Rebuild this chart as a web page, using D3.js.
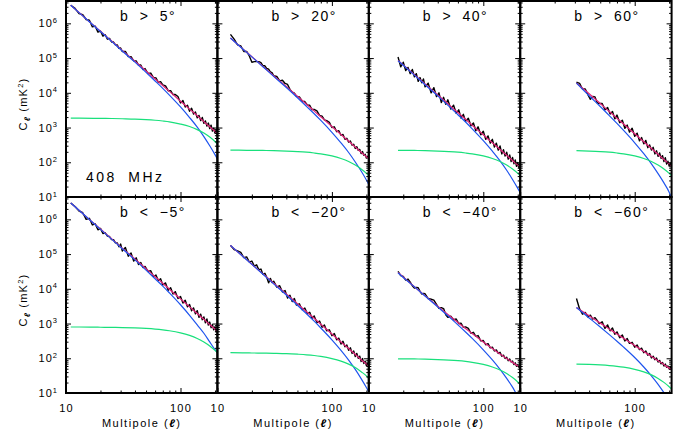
<!DOCTYPE html>
<html><head><meta charset="utf-8">
<script src="https://cdn.jsdelivr.net/npm/d3@7/dist/d3.min.js"></script>
<style>body{margin:0;background:#fff}</style>
</head><body><svg id="c" width="691" height="437"></svg>
<script>
// ---------- data ----------
const ellData = [11,12,13,14,15,16,17,18,19,20,21,22,23,24,25,26,27,28,29,30,31,33,35,37,39,41,43,45,47,49,52,55,58,61,64,67,70,74,78,82,86,90,95,100,105,110,115,120,125,130,135,140,145,150,155,160,165,170,175,180,185,190,195,200,205,210];
const ellModel = [11,13,18,20,25,31,40,50,60,70,80,100,120,140,160,180,200,210];
const panelTitles = ["b > 5°","b > 20°","b > 40°","b > 60°","b < −5°","b < −20°","b < −40°","b < −60°"];
const xTickLabels = [10,100];
const xMinorTicks = [20,30,40,50,60,70,80,90,200];
const yTickLabels = [1e1,1e2,1e3,1e4,1e5,1e6];

// measured spectra C_l (mK^2), aligned to the end of ellData
const measGt5 = [3.31e6,2.69e6,1.91e6,1.78e6,1.29e6,1.23e6,7.9e5,8.3e5,5.6e5,6.0e5,4.3e5,4.7e5,3.5e5,3.7e5,2.9e5,2.9e5,2.4e5,2.4e5,1.9e5,1.95e5,
 1.55e5,1.55e5,1.1e5,1.1e5,8.3e4,8.3e4,6.2e4,6.3e4,4.7e4,5.0e4,
 3.6e4,3.7e4,2.75e4,2.7e4,2.0e4,2.1e4,1.7e4,1.58e4,1.15e4,1.15e4,8900,8900,
 7800,5100,6000,3900,4400,2950,3600,2450,2800,1900,2240,1580,1950,1320,1550,1100,1350,930,1175,790,955,690,850,620];
const measGt20 = [4.8e5,3.5e5,2.4e5,2.24e5,1.55e5,1.55e5,1.15e5,7.6e4,7.9e4,7.9e4,7.9e4,7.4e4,6.0e4,6.0e4,5.0e4,4.8e4,4.0e4,3.8e4,
 3.1e4,2.95e4,2.2e4,2.3e4,1.86e4,1.74e4,1.26e4,1.05e4,9800,7900,
 7600,5750,5600,4470,4370,3310,3310,3020,2240,2140,1660,1580,
 1410,1000,1050,760,810,600,630,457,490,380,410,310,330,250,280,220,235,178,204,158,170,132,148,120];
const measGt40 = [1.07e5,5.6e4,7.6e4,4.4e4,5.4e4,3.55e4,4.7e4,2.9e4,3.55e4,2.14e4,2.75e4,1.95e4,2.5e4,
 1.48e4,1.9e4,1.0e4,1.41e4,7800,1.0e4,5250,7400,4700,6300,
 3400,4400,2570,3240,1860,2400,1510,1860,1120,1350,810,1050,
 620,780,457,575,355,457,275,355,224,295,174,229,151,195,123,162,105,138,91,117,76,98,68,76];
const measGt60 = [2.04e4,1.86e4,1.29e4,1.29e4,8900,6500,7900,7600,5250,4900,
 4900,3240,3800,2450,2880,1780,2290,1380,1620,955,1175,740,
 955,560,690,417,513,339,427,263,316,224,269,174,214,148,186,129,155,105,135,89,107,78,95,72];
const measLt5 = [2.95e6,2.34e6,1.74e6,1.55e6,1.0e6,1.07e6,6.9e5,7.4e5,5.0e5,5.5e5,3.9e5,4.1e5,3.3e5,3.2e5,2.6e5,2.6e5,2.1e5,2.1e5,1.62e5,1.95e5,
 1.23e5,1.55e5,8.7e4,1.07e5,6.3e4,7.8e4,5.0e4,5.75e4,4.1e4,4.4e4,
 3.16e4,3.3e4,2.24e4,2.5e4,1.74e4,1.95e4,1.29e4,1.48e4,9100,1.07e4,7100,8300,
 5250,6000,3900,4700,3020,3550,2340,2820,1900,2340,1510,1860,1290,1550,1050,1350,910,1100,760,930,660,810,575,630];
const measLt20 = [1.78e5,1.35e5,1.23e5,1.12e5,7.9e4,8.3e4,5.9e4,6.3e4,4.5e4,4.9e4,3.55e4,3.7e4,2.6e4,2.8e4,2.1e4,1.48e4,2.0e4,1.51e4,
 1.66e4,1.12e4,1.23e4,8100,8900,5400,6500,4300,5250,3400,
 3700,2500,2800,1900,2100,1410,1660,1070,1175,780,910,620,
 660,447,513,339,380,257,309,214,240,170,200,138,162,112,138,100,115,81,98,71,83,62,71,56];
const measLt40 = [3.16e4,2.4e4,2.29e4,1.78e4,1.91e4,1.55e4,1.23e4,1.05e4,1.1e4,1.07e4,8500,7100,7400,
 7200,5250,5000,4700,3550,2750,2880,2700,1780,1510,
 1620,1290,1350,1000,1020,776,800,724,525,560,427,450,
 316,324,245,263,200,209,162,174,138,148,115,123,98,107,85,95,78,83,66,74,59,65,54,55];
const measLt60 = [5250,2630,1860,2090,1550,1740,1350,1480,1230,1000,
 1120,724,912,617,741,490,575,389,468,316,372,269,
 288,209,240,178,195,145,162,123,138,102,115,91,102,78,87,69,76,60,68,55,60,49,55,47];

// model curves, aligned to the end of ellModel
const totalGt5 = [3.31e6,2.04e6,7.94e5,5.89e5,3.09e5,1.66e5,8.13e4,4.27e4,2.51e4,1.62e4,1.1e4,5750,3390,2190,1480,1050,776,676];
const synGt5   = [3.31e6,2.04e6,7.85e5,5.8e5,3.02e5,1.6e5,7.64e4,3.87e4,2.19e4,1.34e4,8570,3910,1940,1030,550,299,166,123];
const noiseGt5 = [1860,1860,1840,1830,1820,1790,1750,1690,1620,1540,1460,1260,1070,873,692,532,397,339];
const totalGt20 = [3.8e5,1.48e5,1.1e5,5.75e4,3.09e4,1.51e4,7940,4680,3020,2040,1070,631,407,275,195,145,126];
const synGt20   = [3.8e5,1.46e5,1.08e5,5.62e4,2.98e4,1.42e4,7210,4070,2500,1600,728,361,191,102,56,31,23];
const noiseGt20 = [224,221,220,219,216,210,203,195,185,175,152,128,105,83,64,48,41];
const totalGt40 = [8.5e4,6.31e4,3.31e4,1.78e4,8710,4570,2690,1740,1170,617,363,234,158,112,83,72];
const synGt40   = [8.4e4,6.2e4,3.24e4,1.71e4,8180,4150,2340,1440,918,419,208,110,59,32,17.7,13.2];
const noiseGt40 = [221,220,219,216,210,203,195,185,175,152,128,105,83,64,48,41];
const totalGt60 = [1.91e4,9330,4900,2880,1860,1260,661,389,251,170,120,89,78];
const synGt60   = [1.91e4,8220,4030,2210,1320,826,364,176,90,47,25.5,13.8,9.25];
const noiseGt60 = [216,210,203,195,185,175,152,128,105,83,64,48,41];
const totalLt5 = [2.95e6,1.82e6,7.08e5,5.25e5,2.75e5,1.48e5,7.24e4,3.8e4,2.24e4,1.45e4,9770,5130,3020,1950,1320,933,692,603];
const synLt5   = [2.95e6,1.82e6,7.0e5,5.16e5,2.69e5,1.43e5,6.81e4,3.45e4,1.95e4,1.2e4,7640,3480,1730,914,525,295,178,145];
const noiseLt5 = [794,794,785,782,776,766,746,721,692,658,621,540,455,372,295,227,169,145];
const totalLt20 = [1.78e5,6.92e4,5.13e4,2.69e4,1.45e4,7080,3720,2190,1410,955,501,295,191,129,91,68,59];
const synLt20   = [1.78e5,6.84e4,5.05e4,2.63e4,1.39e4,6650,3370,1910,1170,746,340,169,89,48,26,14.4,10.7];
const noiseLt20 = [145,143,142,141,139,136,131,126,120,113,98,83,68,54,41,31,26];
const totalLt40 = [2.95e4,2.19e4,1.15e4,6310,3160,1740,1070,724,513,295,191,132,98,76,60,54];
const synLt40   = [2.88e4,2.12e4,1.14e4,6240,3010,1580,916,570,373,175,89.5,48,26.4,14.7,8.2,6.6];
const noiseLt40 = [96.6,96.2,95.5,94.2,91.8,88.7,85.1,80.9,76.4,66.4,56,45.8,36.3,27.9,20.8,17.8];
const totalLt60 = [2880,1670,1030,697,501,376,233,157,113,85,66,52,47];
const synLt60   = [2880,1450,794,479,309,209,105,56,31,17.8,10.2,5.9,4.6];
const noiseLt60 = [68.2,66.5,64.3,61.7,58.6,55.3,48.1,40.6,33.2,26.3,20.2,15.1,12.9];

// ---------- drawing ----------
const W = 691, H = 437;
const colX = [66, 217.4, 368.8, 520.2], pw = 151.4;
const rowY = [1, 197], ph = 196;
const FONT = "'Liberation Sans', Arial, Helvetica, sans-serif";
const C_BLUE = "#1f55ee", C_GREEN = "#19e07c", C_MAG = "#e0287c";

const x = d3.scaleLog().domain([10, 210]).range([0, pw]);
const y = d3.scaleLog().domain([10, 4.4e6]).range([ph, 0]);

const yMinor = [];
for (let e = 1; e <= 6; e++) for (let m = 2; m <= 9; m++) { const v = m * Math.pow(10, e); if (v < 4.4e6) yMinor.push(v); }

const panels = [
  {meas: measGt5, total: totalGt5, syn: synGt5, noise: noiseGt5},
  {meas: measGt20, total: totalGt20, syn: synGt20, noise: noiseGt20},
  {meas: measGt40, total: totalGt40, syn: synGt40, noise: noiseGt40},
  {meas: measGt60, total: totalGt60, syn: synGt60, noise: noiseGt60},
  {meas: measLt5, total: totalLt5, syn: synLt5, noise: noiseLt5},
  {meas: measLt20, total: totalLt20, syn: synLt20, noise: noiseLt20},
  {meas: measLt40, total: totalLt40, syn: synLt40, noise: noiseLt40},
  {meas: measLt60, total: totalLt60, syn: synLt60, noise: noiseLt60}
];
const align = (arr, grid) => { const off = grid.length - arr.length; return arr.map((v, i) => [grid[off + i], v]); };

const svg = d3.select("#c");
svg.append("rect").attr("width", W).attr("height", H).attr("fill", "#fff");
const defs = svg.append("defs");
defs.append("clipPath").attr("id", "pclip").append("rect").attr("width", pw).attr("height", ph);

const lineData = d3.line().x(d => x(d[0])).y(d => y(d[1]));
const lineModel = d3.line().x(d => x(d[0])).y(d => y(d[1])).curve(d3.curveMonotoneX);

panels.forEach((p, i) => {
  const r = Math.floor(i / 4), c = i % 4;
  const g = svg.append("g").attr("transform", `translate(${colX[c]},${rowY[r]})`);
  const pl = g.append("g").attr("clip-path", "url(#pclip)");
  pl.append("path").attr("d", lineData(align(p.meas, ellData))).attr("fill", "none").attr("stroke", "#000").attr("stroke-width", 1.4).attr("stroke-linejoin", "round");
  pl.append("path").attr("d", lineModel(align(p.total, ellModel))).attr("fill", "none").attr("stroke", C_MAG).attr("stroke-width", 1.3);
  pl.append("path").attr("d", lineModel(align(p.syn, ellModel))).attr("fill", "none").attr("stroke", C_BLUE).attr("stroke-width", 1.2);
  pl.append("path").attr("d", lineModel(align(p.noise, ellModel))).attr("fill", "none").attr("stroke", C_GREEN).attr("stroke-width", 1.2);

  const style = sel => { sel.select(".domain").remove(); sel.selectAll("line").attr("stroke", "#000").attr("stroke-width", 1); sel.attr("font-family", FONT); };
  // x axes
  const xb = g.append("g").attr("transform", `translate(0,${ph})`)
    .call(d3.axisBottom(x).tickValues(xTickLabels).tickSize(-5).tickPadding(11).tickFormat(r === 1 ? d3.format("d") : () => ""));
  style(xb);
  xb.selectAll("text").attr("font-size", 11).attr("fill", "#000").attr("letter-spacing", 1.2);
  style(g.append("g").attr("transform", `translate(0,${ph})`).call(d3.axisBottom(x).tickValues(xMinorTicks).tickSize(-2.5).tickFormat(() => "")));
  style(g.append("g").call(d3.axisTop(x).tickValues(xTickLabels).tickSize(-5).tickFormat(() => "")));
  style(g.append("g").call(d3.axisTop(x).tickValues(xMinorTicks).tickSize(-2.5).tickFormat(() => "")));
  // y axes
  const yl = g.append("g").call(d3.axisLeft(y).tickValues(yTickLabels).tickSize(-5).tickPadding(8).tickFormat(() => ""));
  style(yl);
  if (c === 0) {
    yl.selectAll("text").attr("font-size", 11).attr("fill", "#000").attr("letter-spacing", 1)
      .each(function(d) {
        const t = d3.select(this);
        t.text("10");
        t.append("tspan").attr("dy", -4.5).attr("font-size", 7.5).text(Math.round(Math.log10(d)));
      });
  }
  style(g.append("g").call(d3.axisLeft(y).tickValues(yMinor).tickSize(-2.5).tickFormat(() => "")));
  style(g.append("g").attr("transform", `translate(${pw},0)`).call(d3.axisRight(y).tickValues(yTickLabels).tickSize(-5).tickFormat(() => "")));
  style(g.append("g").attr("transform", `translate(${pw},0)`).call(d3.axisRight(y).tickValues(yMinor).tickSize(-2.5).tickFormat(() => "")));

  g.append("rect").attr("width", pw).attr("height", ph).attr("fill", "none").attr("stroke", "#000").attr("stroke-width", 2);

  g.append("text").attr("x", 54).attr("y", 19.5).attr("font-family", FONT).attr("font-size", 14)
    .attr("letter-spacing", 1.5).attr("word-spacing", 5).attr("fill", "#000").text(panelTitles[i]);

  if (r === 1) {
    const t = svg.append("text").attr("x", colX[c] + pw / 2).attr("y", 426.5).attr("text-anchor", "middle")
      .attr("font-family", FONT).attr("font-size", 11).attr("letter-spacing", 1.5).attr("fill", "#000");
    t.append("tspan").text("Multipole (");
    t.append("tspan").attr("font-style", "italic").attr("font-weight", "bold").text("ℓ");
    t.append("tspan").text(")");
  }
});

// frequency label
svg.append("text").attr("x", 86).attr("y", 181.5).attr("font-family", FONT).attr("font-size", 14)
  .attr("letter-spacing", 2.5).attr("word-spacing", 5).attr("fill", "#000").text("408 MHz");

// y axis titles
rowY.forEach(ry => {
  const t = svg.append("text").attr("transform", `translate(27,${ry + ph / 2 + 5}) rotate(-90)`)
    .attr("text-anchor", "middle").attr("font-family", FONT).attr("font-size", 11).attr("letter-spacing", 1.2).attr("fill", "#000");
  t.append("tspan").text("C");
  t.append("tspan").attr("font-size", 8).attr("dy", 2.5).attr("font-style", "italic").attr("font-weight", "bold").text("ℓ");
  t.append("tspan").attr("dy", -2.5).text(" (mK");
  t.append("tspan").attr("font-size", 7.5).attr("dy", -4.5).text("2");
  t.append("tspan").attr("dy", 4.5).text(")");
});
</script>
</body></html>
